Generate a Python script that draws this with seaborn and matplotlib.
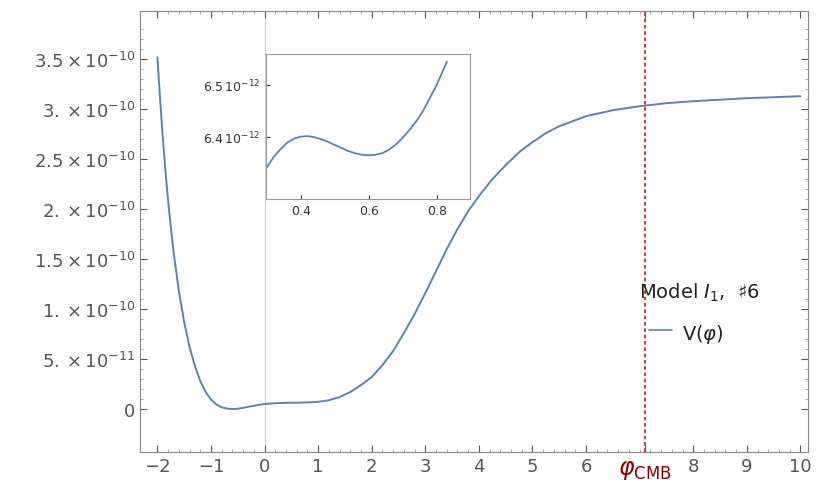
import matplotlib
matplotlib.use("Agg")
import matplotlib.pyplot as plt
import seaborn as sns
import numpy as np
import pandas as pd

x_main = [-2,-1.95,-1.9,-1.85,-1.8,-1.75,-1.7,-1.6,-1.5,-1.4,-1.3,-1.2,-1.1,-1.0,-0.9,-0.8,-0.7,-0.6,-0.5,-0.4,-0.3,-0.2,-0.1,0,0.2,0.4,0.6,0.8,1.0,1.2,1.4,1.6,1.8,2.0,2.2,2.4,2.6,2.8,3.0,3.2,3.4,3.6,3.8,4.0,4.25,4.5,4.75,5.0,5.25,5.5,5.75,6.0,6.5,7.0,7.5,8.0,8.5,9.0,9.5,10]
v_main = [3.52,3.1,2.72,2.38,2.08,1.82,1.58,1.18,0.87,0.62,0.43,0.28,0.17,0.095,0.045,0.017,0.004,0.0,0.003,0.012,0.022,0.032,0.042,0.05,0.058,0.062,0.063,0.066,0.072,0.088,0.12,0.17,0.24,0.32,0.44,0.58,0.76,0.95,1.16,1.38,1.6,1.8,1.98,2.13,2.3,2.44,2.57,2.67,2.76,2.83,2.88,2.93,2.99,3.03,3.06,3.08,3.095,3.11,3.12,3.13]
x_in = [0.3,0.32,0.34,0.36,0.38,0.4,0.42,0.44,0.46,0.48,0.5,0.52,0.54,0.56,0.58,0.6,0.62,0.64,0.66,0.68,0.7,0.72,0.74,0.76,0.78,0.8,0.82,0.83]
v_in = [6.34,6.36,6.375,6.388,6.396,6.40,6.401,6.399,6.395,6.39,6.384,6.378,6.372,6.368,6.365,6.364,6.365,6.368,6.375,6.385,6.398,6.413,6.43,6.45,6.475,6.50,6.53,6.545]
phi_cmb = 7.1
ytick_vals = [0,0.5,1.0,1.5,2.0,2.5,3.0,3.5]
ytick_labels = ["0", r"$5.\times10^{-11}$", r"$1.\times10^{-10}$", r"$1.5\times10^{-10}$", r"$2.\times10^{-10}$",
                r"$2.5\times10^{-10}$", r"$3.\times10^{-10}$", r"$3.5\times10^{-10}$"]

sns.set_style("white")
plt.rcParams['mathtext.fontset'] = 'dejavusans'
col = "#5e81b5"
gray = "#555555"
fig = plt.figure(figsize=(8.3, 5.02), dpi=100)
ax = fig.add_axes([0.169, 0.0976, 0.805, 0.878])
df = pd.DataFrame({"x": x_main, "v": np.array(v_main) * 1e-10})
sns.lineplot(data=df, x="x", y="v", ax=ax, color=col, lw=1.4)
ax.set_xlim(-2.32, 10.15)
ax.set_ylim(-0.43e-10, 3.98e-10)
ax.axvline(0, color="#cccccc", lw=0.8, zorder=0)
ax.axvline(phi_cmb, color="#d62728", ls=(0, (2, 1.5)), lw=1.3)
xt = [-2,-1,0,1,2,3,4,5,6,phi_cmb,8,9,10]
ax.set_xticks(xt)
ax.set_xticklabels(["−2","−1","0","1","2","3","4","5","6",r"$\varphi_{\rm CMB}$","8","9","10"])
ax.set_xticks(np.arange(-2, 10.01, 0.2), minor=True)
ax.set_yticks([v*1e-10 for v in ytick_vals])
ax.set_yticks(np.arange(0, 3.9e-10, 0.1e-10), minor=True)
ax.set_yticklabels(ytick_labels)
ax.tick_params(labelsize=13, colors=gray, direction="in", length=5, bottom=True, left=True, top=True, right=True, labeltop=False, labelright=False)
ax.tick_params(which="minor", direction="in", length=2.5, color="#999999", bottom=True, left=True, top=True, right=True)
for lab in ax.get_xticklabels():
    if "CMB" in lab.get_text():
        lab.set_color("#8b0000"); lab.set_fontsize(17)
for s in ax.spines.values():
    s.set_color("#888888")
ax.set_xlabel(""); ax.set_ylabel("")

fig.text(0.77, 0.405, r"Model $I_1$,  ♯6", fontsize=14, color="#222222")
fig.lines.append(plt.Line2D([0.782, 0.81], [0.34, 0.34], color=col, lw=1.2, transform=fig.transFigure))
fig.text(0.822, 0.323, r"V($\varphi$)", fontsize=14, color="#222222")

ins = fig.add_axes([0.320, 0.602, 0.246, 0.289])
dfi = pd.DataFrame({"x": x_in, "v": np.array(v_in) * 1e-12})
sns.lineplot(data=dfi, x="x", y="v", ax=ins, color=col, lw=1.3)
ins.set_xlim(0.297, 0.897)
ins.set_ylim(6.28e-12, 6.56e-12)
ins.set_xticks([0.4, 0.6, 0.8]); ins.set_xticklabels(["0.4", "0.6", "0.8"])
ins.set_yticks([6.4e-12, 6.5e-12]); ins.set_yticklabels([r"$6.4\,10^{-12}$", r"$6.5\,10^{-12}$"])
ins.tick_params(labelsize=9, colors="#333333", direction="in", length=3, bottom=True, left=True)
ins.set_xlabel(""); ins.set_ylabel("")
for s in ins.spines.values():
    s.set_color("#999999")
fig.savefig("out.png", dpi=100)
